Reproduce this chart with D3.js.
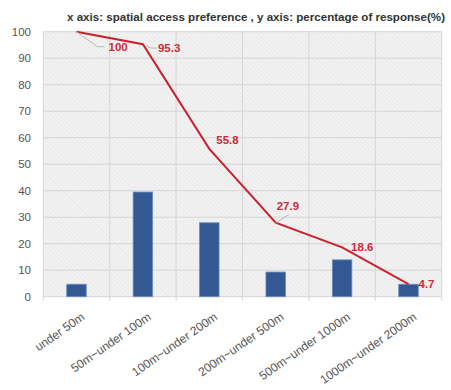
<!DOCTYPE html>
<html><head><meta charset="utf-8">
<script src="https://cdn.jsdelivr.net/npm/d3@7"></script>
<style>body{margin:0;background:#fff}svg{display:block}</style>
</head><body>
<svg id="c" width="451" height="390"></svg>
<script>
const categories = ["under 50m","50m~under 100m","100m~under 200m","200m~under 500m","500m~under 1000m","1000m~under 2000m"];
const barValues = [4.7, 39.5, 27.9, 9.3, 13.9, 4.7];
const lineValues = [100, 95.3, 55.8, 27.9, 18.6, 4.7];
const lineLabels = ["100","95.3","55.8","27.9","18.6","4.7"];
const yTicks = [0,10,20,30,40,50,60,70,80,90,100];
const title = "x axis: spatial access preference , y axis: percentage of response(%)";

const svg = d3.select("#c");
const m = {l:43.3, r:441.7, t:31.7, b:296.7};
const x = d3.scaleBand().domain(categories).range([m.l, m.r]);
const y = d3.scaleLinear().domain([0,100]).range([m.b, m.t]);

const defs = svg.append("defs");
const pat = defs.append("pattern").attr("id","hatch").attr("patternUnits","userSpaceOnUse")
  .attr("width",3).attr("height",3).attr("patternTransform","rotate(45)");
pat.append("rect").attr("width",3).attr("height",3).attr("fill","#f2f2f2");
pat.append("line").attr("x1",0).attr("y1",0).attr("x2",3).attr("y2",0).attr("stroke","#e0e0e0").attr("stroke-width",1);

svg.append("rect").attr("x",m.l).attr("y",m.t).attr("width",m.r-m.l).attr("height",m.b-m.t).attr("fill","url(#hatch)");

// horizontal grid
svg.append("g").selectAll("line").data(yTicks).join("line")
  .attr("x1",m.l).attr("x2",m.r).attr("y1",d=>y(d)).attr("y2",d=>y(d))
  .attr("stroke","#d6d6d6").attr("stroke-width",1);
// vertical grid
const bounds = categories.map(c=>x(c)).concat([m.r]);
svg.append("g").selectAll("line").data(bounds).join("line")
  .attr("x1",d=>d).attr("x2",d=>d).attr("y1",m.t).attr("y2",m.b+4)
  .attr("stroke","#d6d6d6").attr("stroke-width",1);

// y axis labels
svg.append("g").selectAll("text").data(yTicks).join("text")
  .attr("x",31).attr("y",d=>y(d)).attr("dy","0.35em").attr("text-anchor","end")
  .attr("font-family","Arial, Liberation Sans, sans-serif").attr("font-size",11.5).attr("fill","#555")
  .text(d=>d);

// x labels
svg.append("g").selectAll("text").data(categories).join("text")
  .attr("transform",d=>`translate(${x(d)+x.bandwidth()/2+9},${m.b+22}) rotate(-35)`)
  .attr("text-anchor","end")
  .attr("font-family","Arial, Liberation Sans, sans-serif").attr("font-size",12).attr("fill","#555")
  .text(d=>d);

// bars
const bw = 19.5;
svg.append("g").selectAll("rect").data(barValues).join("rect")
  .attr("x",(d,i)=>x(categories[i])+x.bandwidth()/2-bw/2)
  .attr("y",d=>y(d)).attr("width",bw).attr("height",d=>m.b-y(d))
  .attr("fill","#335893").attr("stroke","#6a8cc0").attr("stroke-width",0.8);

// line
const pts = lineValues.map((v,i)=>[x(categories[i])+x.bandwidth()/2, y(v)]);
svg.append("path").attr("d",d3.line()(pts)).attr("fill","none").attr("stroke","#c8232c").attr("stroke-width",2);

// leader lines
const leaders = [
  [[pts[0][0],pts[0][1]],[pts[0][0]+21,pts[0][1]+15],[pts[0][0]+28,pts[0][1]+15]],
  [[pts[1][0]+3,pts[1][1]+2],[pts[1][0]+9,pts[1][1]+4],[pts[1][0]+14,pts[1][1]+4]],
  [[pts[3][0],pts[3][1]],[pts[3][0]+13,pts[3][1]-8]]
];
svg.append("g").selectAll("path").data(leaders).join("path")
  .attr("d",d=>d3.line()(d)).attr("fill","none").attr("stroke","#b8b8b8").attr("stroke-width",1);

// data labels
const offs = [[32,15],[15,4],[7,-9],[1,-17],[9,0],[10,0]];
svg.append("g").selectAll("text").data(lineLabels).join("text")
  .attr("x",(d,i)=>pts[i][0]+offs[i][0]).attr("y",(d,i)=>pts[i][1]+offs[i][1]).attr("dy","0.35em")
  .attr("font-family","Arial, Liberation Sans, sans-serif").attr("font-size",11.5).attr("font-weight","bold")
  .attr("fill","#d02a35").text(d=>d);

// title
svg.append("text").attr("x",67).attr("y",21)
  .attr("font-family","Liberation Sans, Arial, sans-serif").attr("font-size",11.5).attr("font-weight","bold").attr("fill","#333")
  .attr("textLength",378).attr("lengthAdjust","spacingAndGlyphs")
  .text(title);
</script>
</body></html>
